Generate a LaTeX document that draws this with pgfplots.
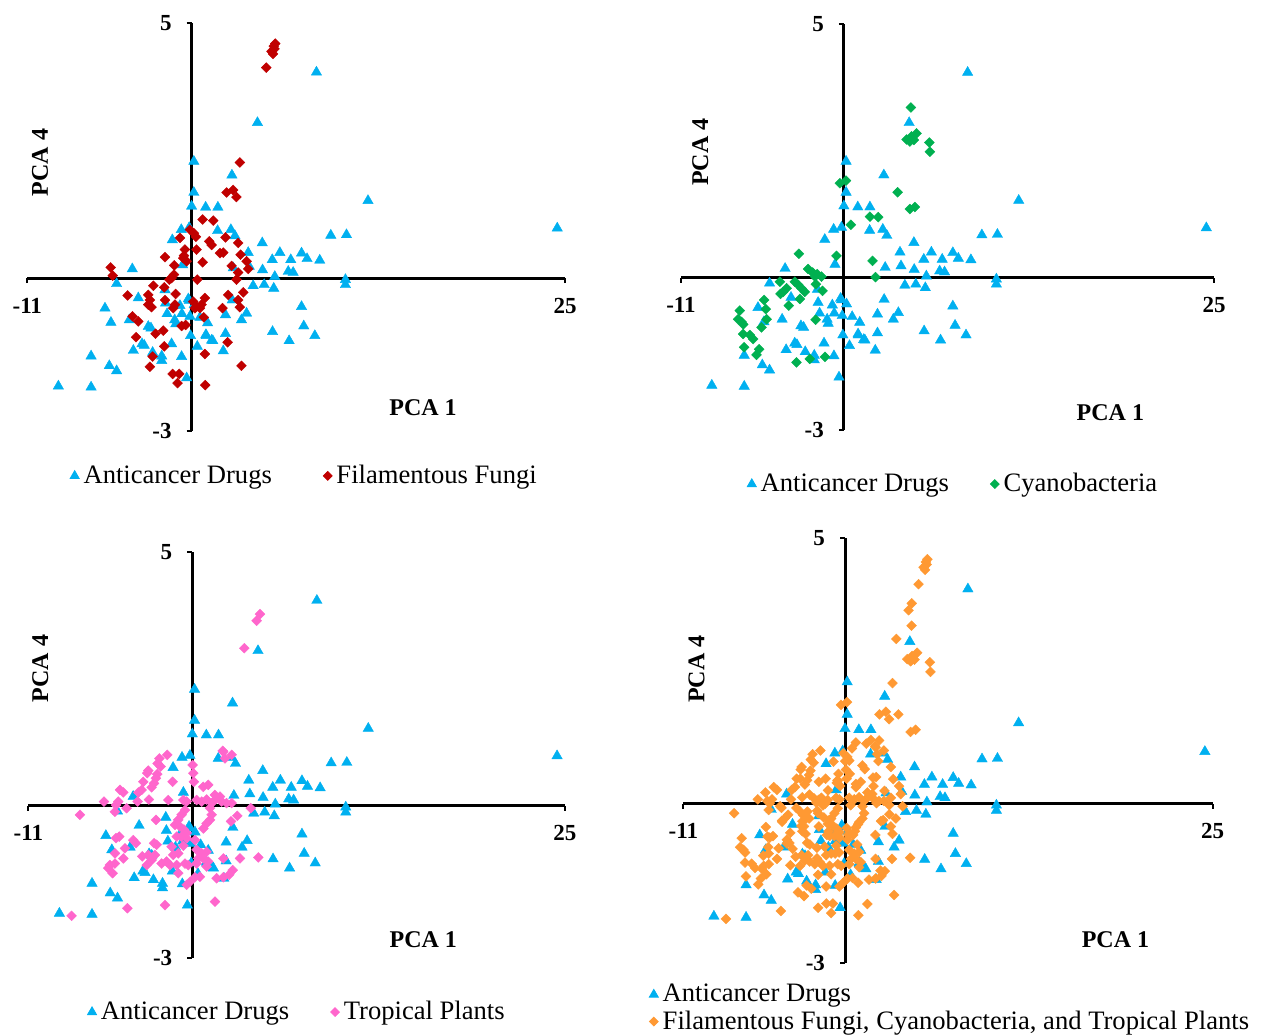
\documentclass[border=0pt]{standalone}
\usepackage{fontspec}
\setmainfont{Liberation Serif}
\usepackage{pgfplots}
\usepackage{pgfplotstable}
\pgfplotsset{compat=1.18}
\definecolor{cblue}{HTML}{00B0F0}
\definecolor{cred}{HTML}{C00000}
\definecolor{cgreen}{HTML}{00B050}
\definecolor{cpink}{HTML}{FF66CC}
\definecolor{corange}{HTML}{FF9933}

\pgfplotstableread[row sep=\\]{x y\\
0.15 2.29\\ 0.15 1.68\\ 0 1.41\\ 0.94 1.39\\ 1.76 1.39\\ 2.7 2.02\\ 4.41 3.05\\ 8.36 4.04\\
11.81 1.52\\ 24.48 0.98\\ 9.32 0.84\\ 10.37 0.85\\ 7.36 0.49\\ 7.73 0.38\\ 8.58 0.35\\
10.3 -0.03\\ 10.3 -0.13\\ 7.36 -0.56\\ 7.51 -0.94\\ 8.25 -1.13\\
-0.69 0.95\\ -0.16 0.99\\ -1.29 0.75\\ 1.74 0.93\\ 2.63 0.95\\ 2.9 0.83\\ 4.73 0.69\\ 3.79 0.50\\
5.91 0.50\\ 5.4 0.36\\ 6.64 0.36\\ 4.75 0.16\\ 6.47 0.13\\ 6.8 0.11\\ 5.57 0.03\\ 3.86 0.23\\
2.79 0.2\\ 4.12 -0.15\\ 4.86 -0.13\\ 5.5 -0.2\\ -0.6 0.26\\ -3.97 0.18\\ -5.02 -0.11\\
-3.57 -0.39\\ -5.8 -0.59\\ -5.4 -0.87\\ -4.17 -0.82\\ -1.78 -0.23\\ -1.74 -0.49\\ -0.22 -0.41\\
-0.78 -0.54\\ -1.64 -0.70\\ -1.13 -0.82\\ -1.06 -0.90\\ -0.65 -0.70\\ -0.11 -0.75\\ 0.56 -0.77\\
1.07 -0.88\\ 2.27 -0.72\\ 2.72 -0.43\\ 3.68 -0.69\\ 3.34 -0.82\\ 5.42 -1.05\\ 6.53 -1.23\\
-2.9 -0.95\\ -2.72 -0.98\\ -0.07 -1.13\\ 0.96 -1.11\\ 1.34 -1.22\\ 2.27 -1.09\\ 2.12 -1.43\\
0.38 -1.34\\ -1.34 -1.29\\ -3.32 -1.29\\ -3.17 -1.32\\ -3.9 -1.42\\ -2.61 -1.46\\ -2.0 -1.53\\
-2.0 -1.62\\ -0.67 -1.54\\ -6.73 -1.53\\ -5.51 -1.72\\ -5.02 -1.82\\ -8.92 -2.12\\ -6.73 -2.14\\
-0.33 -1.96\\ -0.16 -0.44\\ 0.18 -0.52\\ 0.97 -1.13\\ 1.42 -1.23\\
}\drugs

\pgfplotstableread[row sep=\\]{x y\\
5.35 4.45\\ 5.5 4.55\\ 5.6 4.6\\ 5.45 4.4\\ 5.55 4.5\\ 5.0 4.13\\ 3.23 2.27\\
2.34 1.68\\ 2.78 1.73\\ 3.0 1.59\\ 0.74 1.15\\ 1.45 1.13\\ -0.11 0.95\\ 0.16 0.88\\ 0.29 0.81\\
-0.78 0.79\\ 1.18 0.72\\ 1.34 0.65\\ 2.27 0.8\\ 3.12 0.69\\ 1.9 0.49\\ 2.12 0.5\\ 3.28 0.46\\
-0.45 0.56\\ -0.56 0.39\\ -0.33 0.33\\ -0.51 0.44\\ 0.33 0.56\\ 0.74 0.31\\ -1.78 0.41\\
-1.16 0.25\\ -1.18 0.07\\ -1.34 0\\ -1.49 -0.03\\ -1.83 -0.18\\ -2.56 -0.15\\ -5.42 0.21\\
-5.28 0.05\\ 0.38 -0.03\\ 2.68 0.24\\ 3.68 0.33\\ 3.79 0.18\\ 3.12 0.11\\ 3.01 -0.03\\
3.46 -0.28\\ 2.45 -0.33\\ 3.12 -0.43\\ 3.23 -0.57\\ 2.07 -0.59\\ -1.07 -0.31\\ -1.78 -0.43\\
-4.28 -0.34\\ -2.9 -0.33\\ -2.79 -0.43\\ -2.9 -0.52\\ -2.68 -0.57\\ -1.11 -0.52\\ -1.23 -0.59\\
0.11 -0.46\\ 0.33 -0.56\\ 0.67 -0.52\\ 0.89 -0.39\\ 0.22 -0.59\\ 0.56 -0.59\\ 0.82 -0.77\\
-3.95 -0.75\\ -3.57 -0.85\\ -0.67 -0.94\\ -0.4 -0.92\\ -1.9 -1.03\\ -2.41 -1.09\\ -3.72 -1.16\\
-1.83 -1.34\\ 2.41 -1.26\\ 0.89 -1.49\\ -2.61 -1.54\\ -2.79 -1.74\\ 3.34 -1.72\\ -1.27 -1.88\\
-0.83 -1.88\\ -0.94 -2.06\\ 0.91 -2.1\\
}\fungi

\pgfplotstableread[row sep=\\]{x y\\
4.53 3.35\\ 4.24 2.72\\ 4.57 2.78\\ 4.91 2.84\\ 4.73 2.71\\ 4.46 2.68\\ 5.77 2.66\\ 5.81 2.48\\
-0.27 1.86\\ 0.14 1.91\\ 3.63 1.68\\ 4.46 1.35\\ 4.8 1.39\\ 1.76 1.2\\ 2.32 1.19\\ 0.47 1.04\\
-3.04 0.47\\ -0.5 0.43\\ 1.94 0.33\\ 2.14 0.01\\ -2.41 0.17\\ -2.11 0.1\\ -1.8 0.07\\ -1.51 0.02\\
-1.96 0.02\\ -4.32 -0.08\\ -3.31 -0.08\\ -3.09 -0.14\\ -2.86 -0.21\\ -2.64 -0.28\\ -1.89 -0.13\\
-1.44 -0.26\\ -3.87 -0.21\\ -4.1 -0.28\\ -4.28 -0.32\\ -2.97 -0.42\\ -3.72 -0.55\\ -5.39 -0.44\\
-5.27 -0.62\\ -5.22 -0.82\\ -7.03 -0.65\\ -7.14 -0.82\\ -6.91 -0.87\\ -6.8 -0.92\\ -5.56 -0.98\\
-6.8 -1.11\\ -6.35 -1.13\\ -6.13 -1.21\\ -1.91 -0.83\\ -6.74 -1.37\\ -5.72 -1.41\\ -5.9 -1.52\\
-2.3 -1.6\\ -3.2 -1.67\\ -1.28 -1.56\\
}\cyano

\pgfplotstableread[row sep=\\]{x y\\
4.54 3.77\\ 4.32 3.64\\ 3.49 3.1\\ 2.04 1.08\\ -1.68 1.0\\ -2.21 0.93\\ -2.33 0.83\\ -2.13 0.77\\
-2.95 0.69\\ -3.02 0.64\\ -2.35 0.62\\ -2.44 0.54\\ -3.29 0.47\\ -2.57 0.44\\ -2.73 0.36\\
-1.32 0.47\\ 0.02 0.8\\ 0.07 0.64\\ 0.11 0.47\\ 2.08 1.06\\ 2.64 1.0\\ 2.19 0.93\\ 0.74 0.37\\
1.07 0.41\\ -4.85 0.31\\ -4.63 0.26\\ -3.62 0.26\\ -3.4 0.31\\ -2.91 0.12\\ -3.67 0.08\\
-4.97 0.08\\ -5.12 0.01\\ -5.93 0.08\\ -4.41 -0.05\\ -5.19 -0.12\\ -7.54 -0.18\\ -1.61 0.11\\
-0.6 0.11\\ -0.38 0.08\\ 0.29 0.11\\ 0.63 0.08\\ 0.96 0.12\\ 1.3 0.05\\ 1.52 0.21\\ 1.63 0.14\\
1.97 0.08\\ 2.3 0.05\\ 2.64 0.05\\ 1.86 0.18\\ 1.19 -0.05\\ 1.3 -0.18\\ 1.19 -0.28\\ 0.96 -0.35\\
0.74 -0.45\\ 3.02 -0.2\\ 2.6 -0.31\\ 3.92 -0.05\\ -0.49 -0.09\\ -0.72 -0.18\\ -0.94 -0.28\\
-1.16 -0.38\\ -0.83 -0.41\\ -0.56 -0.47\\ -0.38 -0.54\\ -2.44 -0.28\\ -1.05 -0.61\\ -0.72 -0.61\\
-0.38 -0.64\\ 0.18 -0.68\\ -5.12 -0.64\\ -4.9 -0.61\\ -3.96 -0.68\\ -3.78 -0.74\\ -4.52 -0.84\\
-5.19 -0.94\\ -4.63 -1.04\\ -2.57 -0.74\\ -2.39 -0.77\\ -1.39 -0.81\\ -1.28 -0.97\\ -0.94 -0.94\\
-0.6 -0.79\\ 0.29 -0.87\\ 0.63 -0.94\\ 0.96 -0.91\\ 0.4 -1.04\\ 0.74 -1.04\\ 1.07 -1.1\\
0.29 -1.14\\ -3.36 -1.0\\ -2.95 -0.97\\ -2.73 -1.07\\ -2.51 -0.97\\ -3.06 -1.17\\ -5.53 -1.17\\
-5.64 -1.23\\ -5.19 -1.14\\ -5.35 -1.33\\ -2.06 -1.14\\ -1.72 -1.1\\ -1.5 -1.17\\ -1.05 -1.17\\
-0.94 -1.33\\ -0.49 -1.14\\ -0.27 -1.17\\ 2.08 -1.04\\ 3.2 -1.04\\ 4.43 -1.02\\ 0.96 -1.2\\
0.51 -1.4\\ 0.18 -1.41\\ 1.63 -1.43\\ 2.08 -1.41\\ 2.48 -1.36\\ 2.71 -1.27\\ -0.16 -1.5\\
-0.38 -1.56\\ -1.83 -1.96\\ -4.36 -2.02\\ 1.52 -1.89\\ -8.1 -2.17\\
}\plants

\tikzset{lab/.style={font=\bfseries\fontsize{12}{14}\selectfont}}
\pgfplotsset{
  pcastyle/.style={
    scale only axis, anchor=south west,
    xmin=-11, xmax=25, ymin=-3, ymax=5,
    axis lines=middle, axis line style={-, line width=1.5pt, black},
    xtick={-11,25}, ytick={-3,5},
    xticklabels={{-11},{25}}, yticklabels={{-3},{5}},
    tick align=outside, major tick length=2.5pt,
    tick style={line width=1pt, black},
    ticklabel style={font=\bfseries\fontsize{11.5}{13}\selectfont},
    xticklabel style={yshift=-4pt},
    yticklabel style={xshift=-4pt},
    clip=false,
    legend style={draw=none, fill=none, inner sep=0pt, font=\fontsize{13.3}{15}\selectfont,
      nodes={inner xsep=2.2pt, inner ysep=1.5pt}},
    legend cell align=left,
    legend image code/.code={\draw[mark repeat=2,mark phase=2,##1] plot coordinates {(0pt,0pt) (4.5pt,0pt) (9pt,0pt)};},
  },
  tri/.style={only marks, mark=triangle*, mark size=3pt, color=cblue, mark options={line width=0.2pt}},
  dia/.style={only marks, mark=square*, mark size=1.75pt, color=#1, mark options={rotate=45, line width=0.2pt}},
  ltri/.style={only marks, mark=triangle*, mark size=2.6pt, color=cblue},
  ldia/.style={only marks, mark=square*, mark size=1.55pt, color=#1, mark options={rotate=45}},
}

\begin{document}
\begin{tikzpicture}
\path (0,0) rectangle (630.5pt,-518pt);

% Panel 1
\begin{axis}[pcastyle, at={(13.65pt,-215.5pt)}, width=268.85pt, height=203.85pt,
  legend columns=2,
  legend style={at={(0.079,-0.11)}, anchor=west, /tikz/every even column/.append style={column sep=23.5pt}}]
\addlegendimage{ltri}\addlegendentry{Anticancer Drugs}
\addlegendimage{ldia=cred}\addlegendentry{Filamentous Fungi}
\addplot[tri, forget plot] table {\drugs};
\addplot[dia=cred, forget plot] table {\fungi};
\node[lab] at (axis cs:15.5,-2.55) {PCA 1};
\node[lab, rotate=90] at (axis cs:-10.15,2.27) {PCA 4};
\end{axis}

% Panel 2
\begin{axis}[pcastyle, at={(340.5pt,-215pt)}, width=266.5pt, height=203.15pt,
  legend columns=2,
  legend style={at={(0.1236,-0.133)}, anchor=west, /tikz/every even column/.append style={column sep=18.5pt}}]
\addlegendimage{ltri}\addlegendentry{Anticancer Drugs}
\addlegendimage{ldia=cgreen}\addlegendentry{Cyanobacteria}
\addplot[tri, forget plot] table {\drugs};
\addplot[dia=cgreen, forget plot] table {\cyano};
\node[lab] at (axis cs:18.0,-2.66) {PCA 1};
\node[lab, rotate=90] at (axis cs:-9.7,2.47) {PCA 4};
\end{axis}

% Panel 3
\begin{axis}[pcastyle, at={(14.2pt,-479pt)}, width=268.2pt, height=203.15pt,
  legend columns=2,
  legend style={at={(0.1095,-0.133)}, anchor=west, /tikz/every even column/.append style={column sep=18.5pt}}]
\addlegendimage{ltri}\addlegendentry{Anticancer Drugs}
\addlegendimage{ldia=cpink}\addlegendentry{Tropical Plants}
\addplot[tri, forget plot] table {\drugs};
\addplot[dia=cpink, forget plot] table {\plants};
\node[lab] at (axis cs:15.5,-2.64) {PCA 1};
\node[lab, rotate=90] at (axis cs:-10.2,2.7) {PCA 4};
\end{axis}

% Panel 4
\begin{axis}[pcastyle, at={(341.65pt,-481.5pt)}, width=264.6pt, height=212.5pt,
  legend columns=1,
  legend style={at={(-0.065,-0.042)}, anchor=north west}]
\addlegendimage{ltri}\addlegendentry{Anticancer Drugs}
\addlegendimage{ldia=corange}\addlegendentry{Filamentous Fungi, Cyanobacteria, and Tropical Plants}
\addplot[tri, forget plot] table {\drugs};
\addplot[dia=corange, forget plot] table {\fungi};
\addplot[dia=corange, forget plot] table {\cyano};
\addplot[dia=corange, forget plot] table {\plants};
\node[lab] at (axis cs:18.4,-2.57) {PCA 1};
\node[lab, rotate=90] at (axis cs:-10.1,2.53) {PCA 4};
\end{axis}
\end{tikzpicture}
\end{document}
